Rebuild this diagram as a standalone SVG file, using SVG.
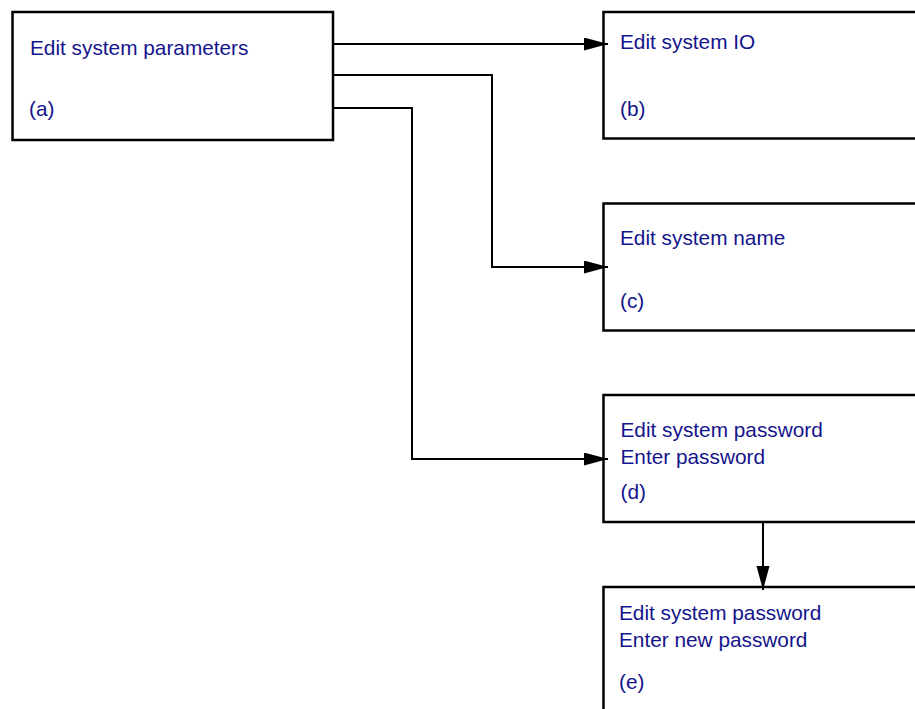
<svg xmlns="http://www.w3.org/2000/svg" width="915" height="709" viewBox="0 0 915 709">
<defs>
<style>
.box{fill:#fff;stroke:#000;stroke-width:2.5}
.t{font-family:"Liberation Sans",Arial,sans-serif;font-size:20.8px;fill:#14148c}
.c{fill:none;stroke:#000;stroke-width:2}
</style>
<marker id="ah" markerUnits="userSpaceOnUse" markerWidth="26" markerHeight="14" refX="24" refY="6.5" orient="auto">
<path d="M0,0 L24,6.5 L0,13 z" fill="#000"/>
</marker>
</defs>
<rect width="915" height="709" fill="#fff"/>
<g id="node-a">
<rect class="box" x="12.5" y="12" width="320.5" height="128"/>
<text class="t" x="30" y="54.5">Edit system parameters</text>
<text class="t" x="29" y="116">(a)</text>
</g>
<g id="node-b">
<rect class="box" x="603.5" y="12" width="330" height="126.5"/>
<text class="t" x="620" y="49">Edit system IO</text>
<text class="t" x="620" y="116">(b)</text>
</g>
<g id="node-c">
<rect class="box" x="603.5" y="203.5" width="330" height="127"/>
<text class="t" x="620" y="245">Edit system name</text>
<text class="t" x="620" y="308">(c)</text>
</g>
<g id="node-d">
<rect class="box" x="603.5" y="395" width="330" height="127"/>
<text class="t" x="620.5" y="437">Edit system password</text>
<text class="t" x="620.5" y="463.5">Enter password</text>
<text class="t" x="620.5" y="499">(d)</text>
</g>
<g id="node-e">
<rect class="box" x="603.5" y="587" width="330" height="140"/>
<text class="t" x="619" y="620">Edit system password</text>
<text class="t" x="619" y="646.5">Enter new password</text>
<text class="t" x="619" y="689">(e)</text>
</g>
<g id="connectors">
<path class="c" d="M333 44 H608" marker-end="url(#ah)"/>
<path class="c" d="M333 75 H492 V267 H608" marker-end="url(#ah)"/>
<path class="c" d="M333 108 H412 V459 H608" marker-end="url(#ah)"/>
<path class="c" d="M763 522 V590" marker-end="url(#ah)"/>
</g>
</svg>
